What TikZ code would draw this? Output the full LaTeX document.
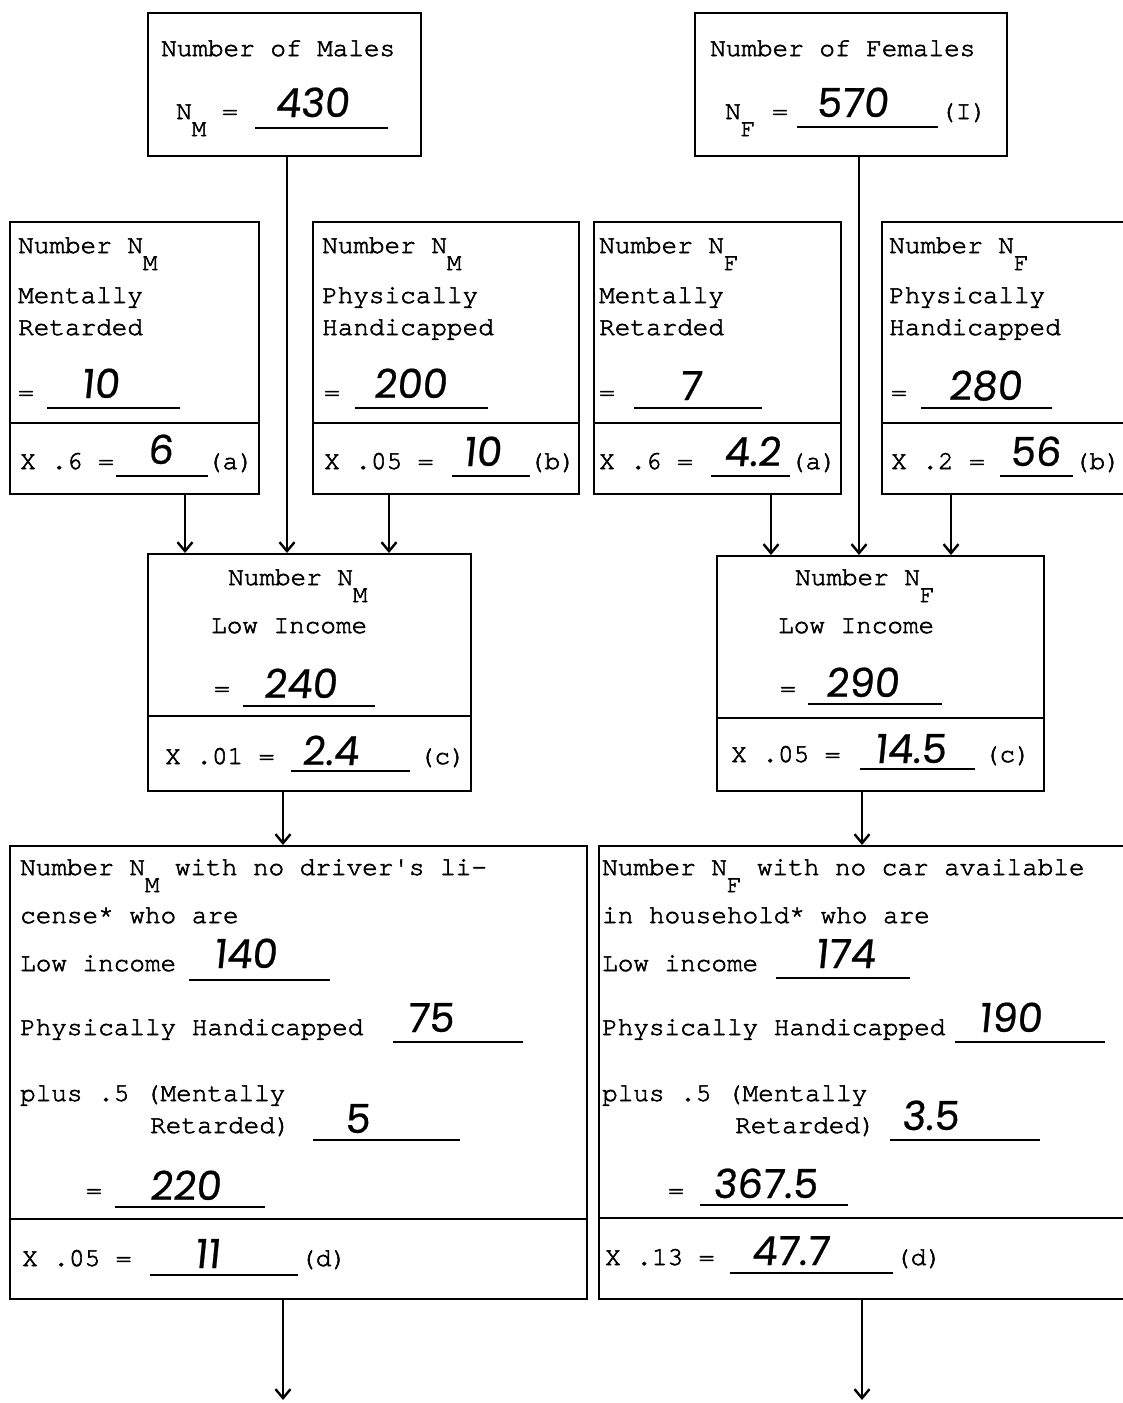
\documentclass[tikz,border=0pt]{standalone}
\usepackage{fontspec}
\setmonofont{texgyrecursor-regular.otf}[FakeBold=2.2]
\newfontfamily\hand[FakeSlant=0.1,FakeBold=0.6]{Poppins}
\usetikzlibrary{arrows.meta}
\newcommand\sbx[1]{\raisebox{-17pt}{\fontsize{24}{24}\selectfont #1}}
\begin{document}
\begin{tikzpicture}[x=1pt,y=-1pt,
  box/.style={draw, line width=2.3pt, rectangle, inner sep=0pt, anchor=north west},
  divline/.style={line width=2.3pt},
  tx/.style={anchor=base west, inner sep=0pt, font=\ttfamily\fontsize{26}{26}\selectfont},
  txe/.style={tx, anchor=base east},
  hw/.style={anchor=base, inner sep=0pt, font=\hand\fontsize{40}{40}\selectfont},
  ul/.style={line width=1.5pt},
  arr/.style={line width=2pt, -{Straight Barb[length=9pt,width=15pt,line width=2.4pt]}}]
\useasboundingbox (0,0) rectangle (1123,1403);
\clip (0,0) rectangle (1123,1403);
% ---------- boxes ----------
\node[box, minimum width=273pt, minimum height=143pt] (tm) at (147,12) {};
\node[box, minimum width=312pt, minimum height=143pt] (tf) at (694,12) {};
\node[box, minimum width=249pt, minimum height=272pt] (l1) at (9,221) {};
\node[box, minimum width=266pt, minimum height=272pt] (l2) at (312,221) {};
\node[box, minimum width=247pt, minimum height=272pt] (r1) at (593,221) {};
\node[box, minimum width=262pt, minimum height=272pt] (r2) at (881,221) {};
\node[box, minimum width=323pt, minimum height=237pt] (ml) at (147,553) {};
\node[box, minimum width=327pt, minimum height=235pt] (mr) at (716,555) {};
\node[box, minimum width=577pt, minimum height=453pt] (bl) at (9,845) {};
\node[box, minimum width=545pt, minimum height=453pt] (br) at (598,845) {};
% dividers
\draw[divline] (l1.west |- 0,423) -- (l1.east |- 0,423);
\draw[divline] (l2.west |- 0,423) -- (l2.east |- 0,423);
\draw[divline] (r1.west |- 0,423) -- (r1.east |- 0,423);
\draw[divline] (r2.west |- 0,423) -- (r2.east |- 0,423);
\draw[divline] (ml.west |- 0,716) -- (ml.east |- 0,716);
\draw[divline] (mr.west |- 0,718) -- (mr.east |- 0,718);
\draw[divline] (bl.west |- 0,1219) -- (bl.east |- 0,1219);
\draw[divline] (br.west |- 0,1218) -- (br.east |- 0,1218);
% ---------- connectors ----------
\coordinate (endL) at (283,1400);
\coordinate (endR) at (862,1400);
\draw[arr] (tm.south -| 287,0) -- (ml.north -| 287,0);
\draw[arr] (tf.south -| 859,0) -- (mr.north -| 859,0);
\draw[arr] (l1.south -| 185,0) -- (ml.north -| 185,0);
\draw[arr] (l2.south -| 389,0) -- (ml.north -| 389,0);
\draw[arr] (r1.south -| 771,0) -- (mr.north -| 771,0);
\draw[arr] (r2.south -| 951,0) -- (mr.north -| 951,0);
\draw[arr] (ml.south -| 283,0) -- (bl.north -| 283,0);
\draw[arr] (mr.south -| 862,0) -- (br.north -| 862,0);
\draw[arr] (bl.south -| endL) -- (endL);
\draw[arr] (br.south -| endR) -- (endR);
% ---------- top left ----------
\node[tx] (tm1) at (161,56) {Number of Males};
\node[tx] (tm2) at (176,119) {N\sbx{M}};
\node[tx] (tm3) at (222,119) {=};
\draw[ul] (255,128) -- (388,128);
\node[hw] (tm4) at (312,117) {430};
% ---------- top right ----------
\node[tx] (tf1) at (710,56) {Number of Females};
\node[tx] (tf2) at (725,119) {N\sbx{F}};
\node[tx] (tf3) at (772,119) {=};
\draw[ul] (797,127) -- (938,127);
\node[hw] (tf4) at (852,117) {570};
\node[tx] (tf5) at (940,119) {(I)};
% ---------- L1 ----------
\node[tx] (l1a) at (18,253) {Number N\sbx{M}};
\node[tx] (l1b) at (18,303) {Mentally};
\node[tx] (l1c) at (18,335) {Retarded};
\node[tx] (l1d) at (18,400) {=};
\draw[ul] (47,408) -- (180,408);
\node[hw] (l1e) at (100,398) {10};
\node[tx] (l1f) at (20,469) {X .6 =};
\draw[ul] (116,476) -- (208,476);
\node[hw] (l1g) at (160,464) {6};
\node[txe] (l1h) at (254,469) {(a)};
% ---------- L2 ----------
\node[tx] (l2a) at (322,253) {Number N\sbx{M}};
\node[tx] (l2b) at (322,303) {Physically};
\node[tx] (l2c) at (322,335) {Handicapped};
\node[tx] (l2d) at (324,400) {=};
\draw[ul] (355,408) -- (488,408);
\node[hw] (l2e) at (410,398) {200};
\node[tx] (l2f) at (324,469) {X .05 =};
\draw[ul] (452,476) -- (530,476);
\node[hw] (l2g) at (482,466) {10};
\node[txe] (l2h) at (576,469) {(b)};
% ---------- R1 ----------
\node[tx] (r1a) at (599,253) {Number N\sbx{F}};
\node[tx] (r1b) at (599,303) {Mentally};
\node[tx] (r1c) at (599,335) {Retarded};
\node[tx] (r1d) at (599,400) {=};
\draw[ul] (634,408) -- (762,408);
\node[hw] (r1e) at (690,400) {7};
\node[tx] (r1f) at (599,469) {X .6 =};
\draw[ul] (711,476) -- (790,476);
\node[hw] (r1g) at (752,466) {4.2};
\node[txe] (r1h) at (837,469) {(a)};
% ---------- R2 ----------
\node[tx] (r2a) at (889,253) {Number N\sbx{F}};
\node[tx] (r2b) at (889,303) {Physically};
\node[tx] (r2c) at (889,335) {Handicapped};
\node[tx] (r2d) at (891,400) {=};
\draw[ul] (921,408) -- (1052,408);
\node[hw] (r2e) at (985,400) {280};
\node[tx] (r2f) at (891,469) {X .2 =};
\draw[ul] (1000,476) -- (1073,476);
\node[hw] (r2g) at (1035,466) {56};
\node[txe] (r2h) at (1121,469) {(b)};
% ---------- ML ----------
\node[tx] (mla) at (228,585) {Number N\sbx{M}};
\node[tx] (mlb) at (211,633) {Low Income};
\node[tx] (mlc) at (214,696) {=};
\draw[ul] (243,706) -- (375,706);
\node[hw] (mld) at (300,698) {240};
\node[tx] (mle) at (165,764) {X .01 =};
\draw[ul] (291,771) -- (410,771);
\node[hw] (mlf) at (330,765) {2.4};
\node[txe] (mlg) at (466,764) {(c)};
% ---------- MR ----------
\node[tx] (mra) at (795,585) {Number N\sbx{F}};
\node[tx] (mrb) at (778,633) {Low Income};
\node[tx] (mrc) at (780,696) {=};
\draw[ul] (808,704) -- (942,704);
\node[hw] (mrd) at (862,697) {290};
\node[tx] (mre) at (731,762) {X .05 =};
\draw[ul] (860,769) -- (975,769);
\node[hw] (mrf) at (910,763) {14.5};
\node[txe] (mrg) at (1031,762) {(c)};
% ---------- BL ----------
\node[tx] (bla) at (20,875) {Number N\sbx{M} with no driver's li-};
\node[tx] (blb) at (20,923) {cense* who are};
\node[tx] (blc) at (20,971) {Low income};
\draw[ul] (189,980) -- (330,980);
\node[hw] (bld) at (245,968) {140};
\node[tx] (ble) at (20,1035) {Physically Handicapped};
\draw[ul] (393,1042) -- (523,1042);
\node[hw] (blf) at (430,1032) {75};
\node[tx] (blg) at (20,1101) {plus .5 (Mentally};
\node[tx] (blh) at (150,1133) {Retarded)};
\draw[ul] (313,1140) -- (460,1140);
\node[hw] (bli) at (357,1133) {5};
\node[tx] (blj) at (86,1198) {=};
\draw[ul] (115,1207) -- (265,1207);
\node[hw] (blk) at (185,1200) {220};
\node[tx] (bll) at (22,1266) {X .05 =};
\draw[ul] (150,1275) -- (298,1275);
\node[hw] (blm) at (207,1268) {11};
\node[tx] (bln) at (300,1266) {(d)};
% ---------- BR ----------
\node[tx] (bra) at (602,875) {Number N\sbx{F} with no car available};
\node[tx] (brb) at (602,923) {in household* who are};
\node[tx] (brc) at (602,971) {Low income};
\draw[ul] (776,978) -- (910,978);
\node[hw] (brd) at (845,968) {174};
\node[tx] (bre) at (602,1035) {Physically Handicapped};
\draw[ul] (955,1042) -- (1105,1042);
\node[hw] (brf) at (1010,1032) {190};
\node[tx] (brg) at (602,1101) {plus .5 (Mentally};
\node[tx] (brh) at (735,1133) {Retarded)};
\draw[ul] (890,1140) -- (1040,1140);
\node[hw] (bri) at (930,1130) {3.5};
\node[tx] (brj) at (668,1198) {=};
\draw[ul] (700,1205) -- (848,1205);
\node[hw] (brk) at (765,1198) {367.5};
\node[tx] (brl) at (605,1265) {X .13 =};
\draw[ul] (730,1273) -- (893,1273);
\node[hw] (brm) at (790,1265) {47.7};
\node[tx] (brn) at (895,1265) {(d)};
\end{tikzpicture}
\end{document}
